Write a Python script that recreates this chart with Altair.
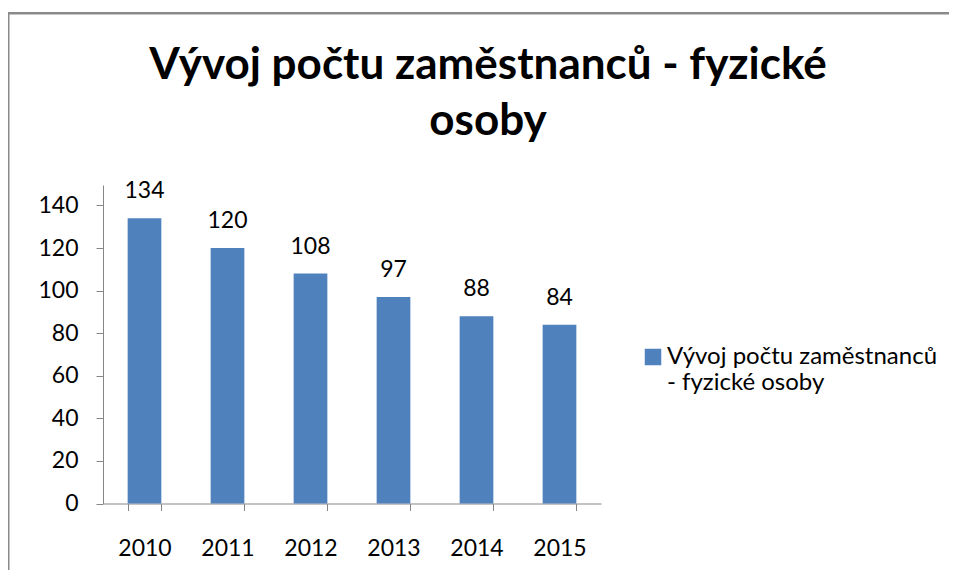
import altair as alt
import pandas as pd

years = ["2010", "2011", "2012", "2013", "2014", "2015"]
employees = [134, 120, 108, 97, 88, 84]
series_name = "Vývoj počtu zaměstnanců - fyzické osoby"
title_lines = ["Vývoj počtu zaměstnanců - fyzické", "osoby"]
legend_lines = ["Vývoj počtu zaměstnanců", "- fyzické osoby"]
y_ticks = [0, 20, 40, 60, 80, 100, 120, 140]

df = pd.DataFrame({"rok": years, "pocet": employees, "serie": [series_name] * len(years)})

FONT = "Lato"
BAR = "#4F81BD"
AXIS = "#868686"
W, H = 498, 318.5

x = alt.X("rok:N", sort=years, title=None,
          scale=alt.Scale(paddingInner=0.594, paddingOuter=0.297),
          axis=alt.Axis(labelAngle=0, tickBand="extent", tickSize=7, labelPadding=44.5,
                        labelBaseline="alphabetic", labelFontSize=23, labelFont=FONT,
                        labelColor="#000000", domainColor=AXIS, tickColor=AXIS, grid=False))
y = alt.Y("pocet:Q", title=None,
          scale=alt.Scale(domain=[0, 149.6], nice=False, zero=True),
          axis=alt.Axis(values=y_ticks, tickSize=7, labelPadding=18, labelFontSize=23,
                        labelFont=FONT, labelColor="#000000", domainColor=AXIS,
                        tickColor=AXIS, grid=False))

base = alt.Chart(df)

bars = base.mark_bar(color=BAR).encode(
    x=x, y=y,
    color=alt.Color("serie:N", scale=alt.Scale(range=[BAR]),
                    legend=alt.Legend(title=None, orient="none", legendX=538, legendY=160,
                                      padding=0, labelFont=FONT, labelFontSize=24,
                                      labelColor="#000000", labelLimit=400, labelOffset=2,
                                      symbolType="square", symbolSize=272,
                                      symbolStrokeWidth=0, symbolFillColor=BAR,
                                      labelExpr="['" + legend_lines[0] + "', '" + legend_lines[1] + "']")),
)

labels = base.mark_text(baseline="alphabetic", dy=-20, font=FONT, fontSize=23, color="#000000").encode(
    x=alt.X("rok:N", sort=years), y=alt.Y("pocet:Q"), text=alt.Text("pocet:Q"))

one = alt.Chart(pd.DataFrame({"t": [0]}))

title = one.mark_text(font=FONT, fontSize=44, fontWeight="bold", color="#000000",
                      baseline="alphabetic", align="center", lineHeight=56).encode(
    x=alt.value(385), y=alt.value(-106), text=alt.value(title_lines))

frame_left = one.mark_rule(color="#8a8a8a", strokeWidth=2).encode(
    x=alt.value(-94.5), y=alt.value(-172.5), y2=alt.value(500))
frame_top = one.mark_rule(color="#8a8a8a", strokeWidth=2.5).encode(
    y=alt.value(-171.7), x=alt.value(-95.5), x2=alt.value(900))

chart = alt.layer(frame_left, frame_top, bars, labels, title).properties(
    width=W, height=H,
    autosize=alt.AutoSizeParams(type="none"),
    padding={"left": 95, "top": 177, "right": 348, "bottom": 66},
    background="white",
).configure_view(stroke=None)

chart.save("out.html", embed_options={"renderer": "svg", "actions": False})
